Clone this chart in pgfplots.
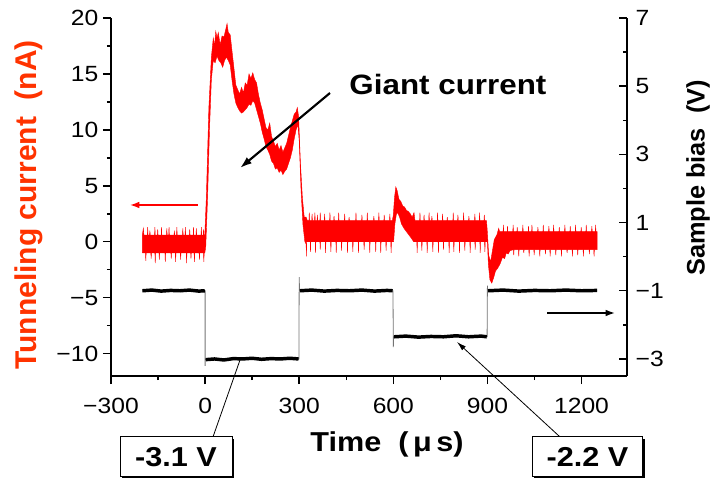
\documentclass[border=0pt]{standalone}
\usepackage{pgfplots}
\pgfplotsset{compat=1.18}
\usepackage{fontspec}
\setmainfont{Liberation Sans}
\newfontfamily\wide[FakeStretch=1.12]{Liberation Sans}
\usetikzlibrary{arrows.meta,shadows}
\definecolor{labred}{RGB}{255,51,0}

\begin{document}
\begin{tikzpicture}
\pgfplotsset{
  base/.style={
    scale only axis, width=387pt, height=268.5pt,
    at={(0,0)}, anchor=south west,
    xmin=-300, xmax=1345,
    axis line style={line width=1.1pt},
    major tick style={line width=1.1pt, black},
    minor tick style={line width=1.1pt, black},
    major tick length=6pt, minor tick length=3pt,
    tick label style={font=\wide\fontsize{16.5}{19}\selectfont},
  }
}
% tunneling current (left axis)
\begin{axis}[base,
  ymin=-12, ymax=20,
  axis x line*=bottom, axis y line*=left,
  tick align=outside,
  xtick={-300,0,300,600,900,1200},
  xticklabels={−300,0,300,600,900,1200},
  minor xtick={-150,150,450,750,1050},
  ytick={-10,-5,0,5,10,15,20},
  yticklabels={−10,−5,0,5,10,15,20},
  minor ytick={-7.5,-2.5,2.5,7.5,12.5,17.5},
  xticklabel style={yshift=-7pt},
  clip=false]
\addplot[draw=red, fill=red, line width=0.3pt] coordinates {
(-200,-1.0)(-200,0.6)(-197,1.2)(-195,0.6)(-184,0.6)(-183,1.3)(-182,0.6)(-177,0.6)(-176,1.0)(-175,0.6)(-161,0.6)(-160,1.3)(-159,0.6)(-152,0.6)(-151,1.1)(-150,0.6)(-140,0.6)(-139,1.3)(-138,0.6)(-123,0.6)(-122,1.2)(-121,0.6)(-116,0.6)(-115,1.3)(-114,0.6)(-99,0.6)(-98,1.0)(-97,0.6)(-91,0.6)(-90,1.3)(-89,0.6)(-72,0.6)(-71,1.2)(-70,0.6)(-64,0.6)(-63,1.3)(-62,0.6)(-50,0.6)(-49,1.1)(-48,0.6)(-38,0.6)(-37,1.3)(-36,0.6)(-29,0.6)(-28,1.2)(-27,0.6)(-13,0.6)(-12,1.3)(-11,0.6)(-6,0.6)(-5,1.1)(-4,0.6)(-1,0.6)
(4,4)(12,12)(20,16.5)(26,18.2)(30,17.5)(34,18.8)(38,18.2)(42,18.7)(48,17.6)(54,18.4)(60,18.3)(66,19.0)(70,19.5)(74,18.7)(80,18.5)(86,17)(92,15.5)(98,14)(104,13.6)(110,13.2)(116,13.8)(122,13.3)(128,14.2)(134,14.0)(140,15.0)(146,14.6)(152,15.1)(158,14.5)(164,14.2)(170,13.2)(176,12.4)(182,11.8)(188,11.0)(194,10.2)(200,10.0)(206,10.6)(212,9.4)(218,9.0)(224,8.5)(230,8.8)(236,8.2)(242,8.6)(248,8.0)(254,8.4)(260,8.8)(266,9.5)(272,10.2)(278,10.8)(284,11.4)(290,11.6)(294,12.0)(298,11.2)(304,7)(310,4)(316,2.2)
(322,2.2)(326,1.9)(331,1.9)(332,2.6)(333,1.9)(340,1.9)(341,2.5)(342,1.9)(349,1.9)(350,2.6)(351,1.9)(357,1.9)(358,2.4)(359,1.9)(366,1.9)(367,2.6)(368,1.9)(380,1.9)(381,2.5)(382,1.9)(397,1.9)(398,2.6)(399,1.9)(410,1.9)(411,2.3)(412,1.9)(425,1.9)(426,2.6)(427,1.9)(444,1.9)(445,2.5)(446,1.9)(458,1.9)(459,2.2)(460,1.9)(480,1.9)(481,2.6)(482,1.9)(499,1.9)(500,2.4)(501,1.9)(516,1.9)(517,2.6)(518,1.9)(537,1.9)(538,2.3)(539,1.9)(553,1.9)(554,2.6)(555,1.9)(570,1.9)(571,2.4)(572,1.9)(588,1.9)(589,2.5)(590,1.9)(597,1.9)
(600,2.4)(604,4.0)(608,4.9)(612,4.6)(618,3.8)(624,3.6)(630,3.2)(636,3.1)(642,2.8)(648,2.7)(654,2.5)(660,2.2)(666,2.6)(669,1.9)
(684,1.9)(685,2.6)(686,1.9)(697,1.9)(698,2.4)(699,1.9)(713,1.9)(714,2.6)(715,1.9)(722,1.9)(723,2.3)(724,1.9)(740,1.9)(741,2.6)(742,1.9)(756,1.9)(757,2.5)(758,1.9)(771,1.9)(772,2.2)(773,1.9)(790,1.9)(791,2.6)(792,1.9)(805,1.9)(806,2.4)(807,1.9)(823,1.9)(824,2.6)(825,1.9)(840,1.9)(841,2.3)(842,1.9)(859,1.9)(860,2.5)(861,1.9)(874,1.9)(875,2.6)(876,1.9)(889,1.9)(890,2.4)(891,1.9)(897,1.9)
(900,0.8)(904,-1.2)(910,-1.8)(916,-0.8)(922,0.2)(930,0.6)(936,1.2)(939,0.9)
(950,0.9)(951,1.5)(952,0.9)(963,0.9)(964,1.4)(965,0.9)(981,0.9)(982,1.5)(983,0.9)(994,0.9)(995,1.3)(996,0.9)(1012,0.9)(1013,1.5)(1014,0.9)(1030,0.9)(1031,1.4)(1032,0.9)(1041,0.9)(1042,1.5)(1043,0.9)(1060,0.9)(1061,1.3)(1062,0.9)(1077,0.9)(1078,1.5)(1079,0.9)(1095,0.9)(1096,1.4)(1097,0.9)(1110,0.9)(1111,1.5)(1112,0.9)(1128,0.9)(1129,1.3)(1130,0.9)(1146,0.9)(1147,1.5)(1148,0.9)(1163,0.9)(1164,1.4)(1165,0.9)(1180,0.9)(1181,1.5)(1182,0.9)(1198,0.9)(1199,1.3)(1200,0.9)(1214,0.9)(1215,1.5)(1216,0.9)(1232,0.9)(1233,1.4)(1234,0.9)(1244,0.9)(1245,1.5)(1246,0.9)(1250,0.9)
(1250,-0.7)(1241,-0.7)(1240,-1.3)(1239,-0.7)(1226,-0.7)(1225,-1.1)(1224,-0.7)(1207,-0.7)(1206,-1.3)(1205,-0.7)(1189,-0.7)(1188,-1.2)(1187,-0.7)(1172,-0.7)(1171,-1.3)(1170,-0.7)(1155,-0.7)(1154,-1.0)(1153,-0.7)(1137,-0.7)(1136,-1.3)(1135,-0.7)(1119,-0.7)(1118,-1.2)(1117,-0.7)(1101,-0.7)(1100,-1.3)(1099,-0.7)(1086,-0.7)(1085,-1.1)(1084,-0.7)(1068,-0.7)(1067,-1.3)(1066,-0.7)(1050,-0.7)(1049,-1.2)(1048,-0.7)(1034,-0.7)(1033,-1.3)(1032,-0.7)(1017,-0.7)(1016,-1.0)(1015,-0.7)(1001,-0.7)(1000,-1.3)(999,-0.7)(985,-0.7)(984,-1.2)(983,-0.7)(972,-0.8)(966,-1.1)(960,-1.0)(955,-1.5)(948,-1.4)(940,-2.0)(932,-2.4)(926,-2.6)(920,-3.2)(914,-3.7)(908,-3.4)(903,-2.0)(900,0.0)
(897,0)(893,0)(892,-0.9)(891,0)(878,0)(877,-1.0)(876,0)(862,0)(861,-0.7)(860,0)(846,0)(845,-1.0)(844,0)(829,0)(828,-0.8)(827,0)(812,0)(811,-1.0)(810,0)(794,0)(793,-0.9)(792,0)(779,0)(778,-1.0)(777,0)(761,0)(760,-0.7)(759,0)(745,0)(744,-1.0)(743,0)(727,0)(726,-0.9)(725,0)(709,0)(708,-1.0)(707,0)(692,0)(691,-0.8)(690,0)(677,0)(676,-1.0)(675,0)
(665,0)(658,0.3)(650,0.6)(642,0.9)(634,1.2)(626,1.6)(620,2.2)(614,2.6)(610,2.5)(605,1.6)(601,0.0)
(597,0)(594,0)(593,-1.0)(592,0)(578,0)(577,-0.8)(576,0)(561,0)(560,-1.0)(559,0)(545,0)(544,-0.9)(543,0)(526,0)(525,-1.0)(524,0)(508,0)(507,-0.7)(506,0)(490,0)(489,-1.0)(488,0)(472,0)(471,-0.9)(470,0)(455,0)(454,-1.0)(453,0)(436,0)(435,-0.8)(434,0)(419,0)(418,-1.0)(417,0)(402,0)(401,-0.9)(400,0)(385,0)(384,-1.0)(383,0)(368,0)(367,-0.7)(366,0)(353,0)(352,-1.0)(351,0)(337,0)(336,-0.9)(335,0)(324,0)(323,-1.3)(322,-0.2)
(318,0)(312,1.5)(306,4.5)(300,9.0)(296,10.5)(290,10.0)(284,9.2)(278,8.2)(272,7.5)(266,7.0)(260,6.5)(254,6.3)(248,6.0)(242,6.4)(236,6.2)(230,6.6)(224,6.5)(218,7.0)(212,7.2)(206,7.8)(200,8.2)(194,8.5)(188,9.2)(182,9.8)(176,10.6)(170,11.2)(164,11.8)(158,12.4)(152,12.6)(146,12.2)(140,12.3)(134,12.0)(128,11.8)(122,11.6)(116,11.5)(110,11.7)(104,12.0)(98,12.4)(92,13.2)(86,14.4)(80,15.8)(74,16.2)(68,16.5)(62,16.2)(56,15.6)(50,16.0)(44,16.2)(38,16.6)(32,16.0)(26,16.2)(20,14.5)(14,10)(8,4)(2,-0.5)
(-1,-1.0)(-3,-1.0)(-4,-1.8)(-5,-1.0)(-17,-1.0)(-18,-1.6)(-19,-1.0)(-33,-1.0)(-34,-1.8)(-35,-1.0)(-44,-1.0)(-45,-1.5)(-46,-1.0)(-58,-1.0)(-59,-1.9)(-60,-1.0)(-77,-1.0)(-78,-1.6)(-79,-1.0)(-93,-1.0)(-94,-1.8)(-95,-1.0)(-107,-1.0)(-108,-1.5)(-109,-1.0)(-126,-1.0)(-127,-1.8)(-128,-1.0)(-145,-1.0)(-146,-1.6)(-147,-1.0)(-158,-1.0)(-159,-1.9)(-160,-1.0)(-171,-1.0)(-172,-1.5)(-173,-1.0)(-188,-1.0)(-189,-1.7)(-190,-1.0)(-200,-1.0)
};
\end{axis}
% sample bias (right axis)
\begin{axis}[base,
  ymin=-3.5, ymax=7,
  axis x line=none, axis y line*=right,
  tick align=inside,
  ytick={-3,-1,1,3,5,7},
  yticklabels={−3,−1,1,3,5,7},
  minor ytick={-2,0,2,4,6},
  yticklabel style={xshift=3pt},
  clip=false]
\addplot[black!55, line width=0.6pt] coordinates {
(-200,-1)(0,-1)(0,-3.2)(1,-3.0)(299,-3.0)(300,-0.6)(301,-1)(599,-1)(600,-2.65)(601,-2.35)(899,-2.35)(900,-0.85)(901,-1)(1250,-1)};
\addplot[black, line width=2.6pt] coordinates {
(-200,-1.0)(-170,-0.98)(-140,-1.01)(-110,-0.99)(-80,-1.0)(-50,-0.98)(-20,-1.01)(-1,-1.0)};
\addplot[black, line width=2.6pt] coordinates {
(2,-3.02)(30,-3.0)(60,-3.03)(90,-2.99)(120,-3.0)(150,-2.98)(180,-3.01)(210,-2.99)(240,-3.0)(270,-2.98)(298,-3.0)};
\addplot[black, line width=2.6pt] coordinates {
(302,-1.0)(340,-0.98)(380,-1.01)(420,-0.99)(460,-1.0)(500,-0.98)(540,-1.01)(580,-0.99)(598,-1.0)};
\addplot[black, line width=2.6pt] coordinates {
(602,-2.35)(640,-2.33)(680,-2.36)(720,-2.34)(760,-2.35)(800,-2.32)(840,-2.35)(880,-2.33)(898,-2.35)};
\addplot[black, line width=2.6pt] coordinates {
(902,-1.0)(950,-0.98)(1000,-1.01)(1050,-0.99)(1100,-1.0)(1150,-0.98)(1200,-1.0)(1250,-0.99)};
% annotations
\draw[line width=1.6pt, -{Latex[length=9pt,width=6pt]}] (rel axis cs:0.4244,0.7905) -- (rel axis cs:0.25,0.581);
\node[font=\wide\bfseries\fontsize{21}{24}\selectfont] at (rel axis cs:0.653,0.813) {Giant current};
\draw[red, line width=1.1pt, -{Latex[length=7pt,width=5pt]}] (rel axis cs:0.1686,0.4777) -- (rel axis cs:0.0368,0.4777);
\draw[black, line width=1.1pt, -{Latex[length=7pt,width=5pt]}] (rel axis cs:0.845,0.176) -- (rel axis cs:0.9767,0.176);
\draw[line width=0.6pt] (rel axis cs:0.1977,-0.17) -- (rel axis cs:0.25,0.0447);
\draw[line width=0.6pt, -{Latex[length=7pt,width=4pt]}] (rel axis cs:0.870,-0.17) -- (rel axis cs:0.6705,0.095);
\node[draw, fill=white, line width=0.7pt, minimum width=84pt, minimum height=30pt,
  drop shadow={shadow xshift=1.5pt, shadow yshift=-1.5pt, opacity=1, fill=black},
  font=\wide\bfseries\fontsize{20.5}{23}\selectfont] at (rel axis cs:0.126,-0.226) {-3.1 V};
\node[draw, fill=white, line width=0.7pt, minimum width=83pt, minimum height=30pt,
  drop shadow={shadow xshift=1.5pt, shadow yshift=-1.5pt, opacity=1, fill=black},
  font=\wide\bfseries\fontsize{20.5}{23}\selectfont] at (rel axis cs:0.9234,-0.226) {-2.2 V};
\node[font=\wide\bfseries\fontsize{20.5}{23}\selectfont] at (rel axis cs:0.535,-0.19) {Time\ \ (\,μ\,s)};
\node[rotate=90, text=labred, font=\bfseries\fontsize{22.5}{26}\selectfont] at (rel axis cs:-0.159,0.478) {Tunneling current\ \ (nA)};
\node[rotate=90, font=\bfseries\fontsize{19}{22}\selectfont] at (rel axis cs:1.1376,0.553) {Sample bias\ \ (V)};
\end{axis}
\pgfresetboundingbox
\useasboundingbox (-83.25pt,-76.5pt) rectangle (454.5pt,282pt);
\end{tikzpicture}
\end{document}
